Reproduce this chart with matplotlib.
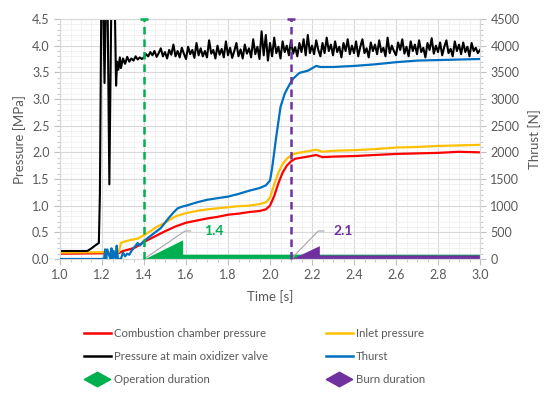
import numpy as np
import matplotlib
matplotlib.use("Agg")
import matplotlib.pyplot as plt
from matplotlib.lines import Line2D
from matplotlib.ticker import MultipleLocator

plt.rcParams['font.family'] = ['Lato', 'DejaVu Sans']

# --- data ---
# pressure at main oxidizer valve [MPa]
black_t_start = [1.00, 1.10, 1.13, 1.15, 1.17, 1.185, 1.19, 1.197, 1.205, 1.212, 1.219, 1.226,
                 1.235, 1.245, 1.255, 1.262, 1.267, 1.272, 1.278, 1.285, 1.29, 1.30, 1.31, 1.32,
                 1.33, 1.34, 1.35, 1.36, 1.37, 1.38, 1.39]
black_v_start = [0.15, 0.15, 0.15, 0.20, 0.26, 0.30, 1.20, 5.00, 5.00, 3.30, 5.00, 5.00,
                 1.40, 5.00, 5.00, 4.50, 3.25, 3.70, 3.55, 3.78, 3.58, 3.76, 3.66, 3.79,
                 3.70, 3.76, 3.72, 3.80, 3.74, 3.78, 3.75]
black_t_run = np.linspace(1.40, 3.00, 161)
black_v_run = [3.78, 3.84, 3.80, 3.88, 3.82, 3.90, 3.79, 3.86, 3.95, 3.80,
               3.88, 3.76, 3.92, 3.83, 4.02, 3.80, 3.90, 3.78, 3.96, 3.85,
               3.75, 3.98, 3.84, 3.92, 3.77, 4.05, 3.82, 3.95, 3.80, 3.90,
               3.78, 4.10, 3.85, 3.92, 3.76, 4.00, 3.83, 3.94, 3.78, 4.08,
               3.82, 3.96, 3.77, 3.90, 4.05, 3.80, 3.93, 3.76, 4.02, 3.85,
               3.95, 3.78, 4.12, 3.84, 3.98, 3.75, 4.27, 3.82, 4.20, 3.72,
               4.05, 3.80, 4.15, 3.86, 3.98, 3.76, 4.08, 3.88, 4.00, 3.82,
               4.10, 3.85, 3.97, 3.80, 4.05, 3.88, 4.12, 3.82, 4.20, 3.86,
               4.00, 3.84, 4.10, 3.92, 3.80, 4.05, 3.86, 4.15, 3.90, 4.02,
               3.82, 4.08, 3.88, 3.98, 3.78, 4.05, 3.90, 4.12, 3.84, 4.00,
               3.86, 4.08, 3.80, 3.98, 4.12, 3.86, 3.95, 3.78, 4.06, 3.90,
               4.02, 3.84, 4.10, 3.88, 3.96, 3.80, 4.15, 3.86, 4.00, 3.90,
               3.82, 4.06, 3.92, 4.12, 3.85, 3.98, 3.80, 4.08, 3.90, 4.02,
               3.84, 4.10, 3.88, 3.96, 3.78, 4.05, 3.92, 4.14, 3.85, 4.00,
               3.88, 4.06, 3.82, 3.98, 4.10, 3.86, 3.94, 3.80, 4.08, 3.90,
               4.02, 3.84, 4.06, 3.88, 3.98, 3.80, 4.05, 3.90, 3.96, 3.86,
               3.92]

# combustion chamber pressure [MPa]
red_t = [1.00, 1.28, 1.30, 1.33, 1.36, 1.40, 1.43, 1.46, 1.50, 1.55, 1.60, 1.65, 1.70,
         1.75, 1.80, 1.85, 1.90, 1.95, 1.98, 2.00, 2.02, 2.04, 2.06, 2.08, 2.10, 2.12,
         2.15, 2.18, 2.22, 2.25, 2.30, 2.40, 2.50, 2.60, 2.70, 2.80, 2.90, 3.00]
red_v = [0.10, 0.11, 0.15, 0.18, 0.22, 0.32, 0.38, 0.44, 0.52, 0.61, 0.68, 0.72, 0.76,
         0.79, 0.83, 0.85, 0.88, 0.90, 0.93, 1.00, 1.18, 1.42, 1.62, 1.75, 1.83, 1.88,
         1.90, 1.92, 1.95, 1.91, 1.92, 1.93, 1.95, 1.97, 1.98, 1.99, 2.01, 2.00]

# inlet pressure [MPa]
yellow_t = [1.00, 1.28, 1.29, 1.31, 1.34, 1.37, 1.40, 1.43, 1.46, 1.50, 1.55, 1.60, 1.65,
            1.70, 1.75, 1.80, 1.85, 1.90, 1.95, 1.98, 2.00, 2.02, 2.04, 2.06, 2.08, 2.10,
            2.12, 2.15, 2.18, 2.22, 2.25, 2.30, 2.40, 2.50, 2.60, 2.70, 2.80, 2.90, 3.00]
yellow_v = [0.12, 0.13, 0.30, 0.33, 0.36, 0.38, 0.45, 0.52, 0.60, 0.68, 0.80, 0.86, 0.90,
            0.93, 0.95, 0.97, 0.99, 1.00, 1.03, 1.06, 1.15, 1.40, 1.62, 1.78, 1.88, 1.94,
            1.98, 2.00, 2.02, 2.05, 2.01, 2.03, 2.04, 2.06, 2.09, 2.10, 2.12, 2.13, 2.14]

# thrust [N]
blue_t = [1.00, 1.20, 1.21, 1.215, 1.22, 1.225, 1.24, 1.245, 1.25, 1.255, 1.265, 1.27,
          1.275, 1.28, 1.29, 1.30, 1.31, 1.32, 1.33, 1.34, 1.35, 1.36, 1.37, 1.38, 1.40,
          1.42, 1.44, 1.46, 1.48, 1.50, 1.52, 1.54, 1.56, 1.58, 1.60, 1.65, 1.70, 1.75,
          1.80, 1.85, 1.90, 1.95, 1.98, 2.00, 2.01, 2.03, 2.05, 2.07, 2.09, 2.11, 2.14,
          2.18, 2.22, 2.24, 2.30, 2.40, 2.50, 2.60, 2.70, 2.80, 2.90, 3.00]
blue_v = [0, 0, 0, 180, 0, 180, 0, 200, 0, 150, 0, 250,
          20, 0, 0, 120, 50, 100, 80, 150, 200, 250, 300, 250, 340,
          400, 460, 520, 580, 680, 780, 870, 950, 980, 1000, 1060, 1110, 1140,
          1170, 1220, 1280, 1330, 1380, 1470, 1700, 2300, 2850, 3100, 3250, 3380, 3490,
          3530, 3620, 3600, 3600, 3620, 3650, 3690, 3720, 3730, 3740, 3750]

# duration markers
op_start, burn_start = 1.4, 2.1
op_t = [1.4, 1.584, 1.584, 3.0]
op_v = [0.0, 0.36, 0.09, 0.09]
burn_t = [2.1, 2.235, 2.235, 3.0]
burn_v = [0.0, 0.25, 0.075, 0.075]
label_y = 0.525

RED, YELLOW, BLACK, BLUE = '#FF0000', '#FFC000', '#000000', '#0070C0'
GREEN, PURPLE, GREY = '#00B050', '#7030A0', '#595959'

fig = plt.figure(figsize=(5.5, 3.98), dpi=100)
ax = fig.add_axes([60/550, 1-259/398, 420/550, 240/398])
ax2 = ax.twinx()

ax.set_xlim(1.0, 3.0)
ax.set_ylim(0, 4.5)
ax2.set_ylim(0, 4500)
ax.xaxis.set_major_locator(MultipleLocator(0.2))
ax.xaxis.set_minor_locator(MultipleLocator(0.05))
ax.yaxis.set_major_locator(MultipleLocator(0.5))
ax.yaxis.set_minor_locator(MultipleLocator(0.1))
ax2.yaxis.set_major_locator(MultipleLocator(500))
ax2.yaxis.set_minor_locator(MultipleLocator(100))
ax.xaxis.set_major_formatter(lambda v, p: f"{v:.1f}")
ax.yaxis.set_major_formatter(lambda v, p: f"{v:.1f}")
ax.grid(which='major', color='#D9D9D9', lw=0.8)
ax.grid(which='minor', color='#F0F0F0', lw=0.6)
ax.set_axisbelow(True)

for a in (ax, ax2):
    for s in a.spines.values():
        s.set_color('#D9D9D9')
    a.tick_params(which='both', colors='#BFBFBF', labelcolor=GREY, labelsize=9)
    a.tick_params(which='major', length=4)
    a.tick_params(which='minor', length=2)

# areas
ax.fill_between(op_t, op_v, 0, color=GREEN, lw=0, zorder=2)
ax.fill_between(burn_t, burn_v, 0, color=PURPLE, lw=0, zorder=2)
ax.plot([op_start, 3.0], [0, 0], color='#A6A6A6', lw=1, zorder=1.5)

# leader lines and labels
ax.plot([op_start, 1.595, 1.622], [0, label_y, label_y], color='#A6A6A6', lw=0.8, zorder=3)
ax.plot([burn_start, 2.23, 2.257], [0, label_y, label_y], color='#A6A6A6', lw=0.8, zorder=3)
ax.text(1.733, label_y, '1.4', color=GREEN, fontsize=10, fontweight='bold', ha='center', va='center')
ax.text(2.35, label_y, '2.1', color=PURPLE, fontsize=10, fontweight='bold', ha='center', va='center')

# series
ax.plot(red_t, red_v, color=RED, lw=1.6, zorder=4)
ax.plot(yellow_t, yellow_v, color=YELLOW, lw=1.6, zorder=4)
ax.plot(black_t_start + list(black_t_run), black_v_start + black_v_run, color=BLACK, lw=1.5, zorder=5)
ax2.plot(blue_t, blue_v, color=BLUE, lw=1.6, zorder=4)

# event lines
for x, c in ((op_start, GREEN), (burn_start, PURPLE)):
    ax2.plot([x, x], [0, 4500], color=c, lw=1.8, ls=(0, (3, 2)), zorder=6, clip_on=False)
    ax2.plot([x], [4500], marker='_', ms=6, mew=1.8, color=c, zorder=6, clip_on=False)

ax.set_xlabel('Time [s]', color=GREY, fontsize=9.5, labelpad=6)
ax.set_ylabel('Pressure [MPa]', color=GREY, fontsize=9.5, labelpad=4)
ax2.set_ylabel('Thrust [N]', color=GREY, fontsize=9.5, labelpad=6)

diamond = [(-1, 0), (0, 0.55), (1, 0), (0, -0.55), (-1, 0)]
handles = [
    Line2D([], [], color=RED, lw=1.8, label='Combustion chamber pressure'),
    Line2D([], [], color=BLACK, lw=1.8, label='Pressure at main oxidizer valve'),
    Line2D([], [], ls='none', marker=diamond, ms=19, color=GREEN, label='Operation duration'),
    Line2D([], [], color=YELLOW, lw=1.8, label='Inlet pressure'),
    Line2D([], [], color=BLUE, lw=1.8, label='Thurst'),
    Line2D([], [], ls='none', marker=diamond, ms=19, color=PURPLE, label='Burn duration'),
]
leg = fig.legend(handles=handles, ncol=2, loc='upper left', bbox_to_anchor=(78/550, 1-322/398),
                 frameon=False, fontsize=8.2, handlelength=2.4, handletextpad=0.3,
                 columnspacing=5.0, labelspacing=1.05, borderpad=0)
for t in leg.get_texts():
    t.set_color(GREY)

fig.savefig('out.png', dpi=100)
